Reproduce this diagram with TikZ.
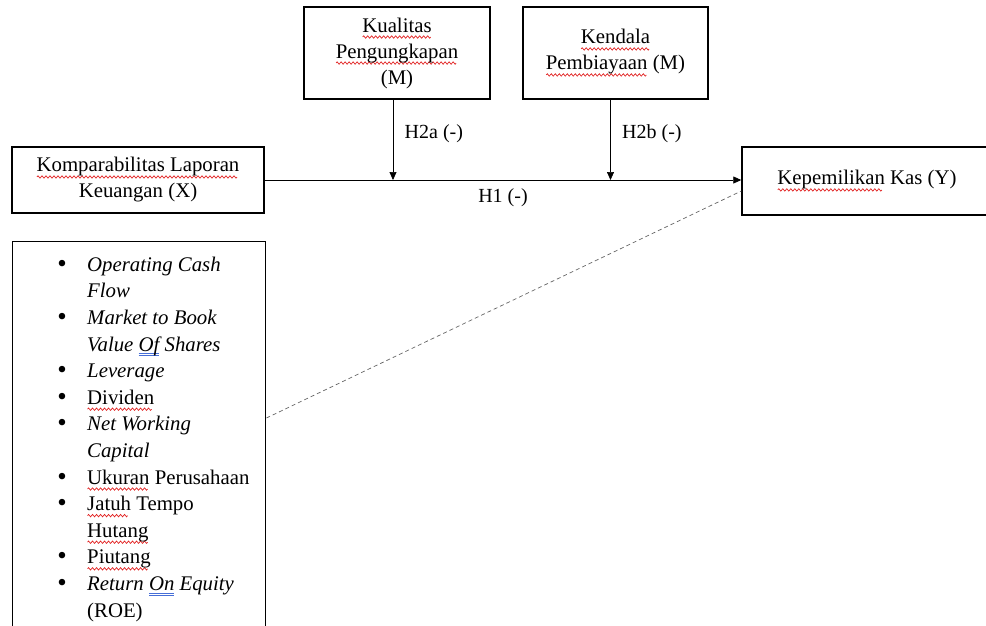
\documentclass[tikz,border=0pt]{standalone}
\usepackage{fontspec}
\setmainfont{Liberation Serif}
\usetikzlibrary{arrows.meta,calc,positioning}
\definecolor{spellred}{RGB}{225,35,35}
\definecolor{gramblue}{RGB}{70,110,215}
\newsavebox\markbox
\newlength\markwd
% gelombang merah di bawah kata
\newcommand\spell[1]{\sbox\markbox{#1}\setlength\markwd{\wd\markbox}%
	\pgfmathsetmacro\wavn{max(1,int(\markwd/4))}%
	\leavevmode\rlap{\raisebox{-5pt}{\tikz[x=1pt,y=1pt,baseline=0pt]\draw[spellred,line width=0.7pt] (0,0) \foreach \k in {1,...,\wavn}{sin ++(1,1.2) cos ++(1,-1.2) sin ++(1,-1.2) cos ++(1,1.2)};}}\usebox\markbox}
% garis ganda biru
\newcommand\gram[1]{\sbox\markbox{#1}\setlength\markwd{\wd\markbox}%
	\leavevmode\rlap{\color{gramblue}\rule[-3pt]{\markwd}{0.6pt}}\rlap{\color{gramblue}\rule[-5pt]{\markwd}{0.6pt}}\usebox\markbox}
\newcommand\bul{\makebox[8pt]{\raisebox{-1pt}{\fontsize{27}{27}\selectfont\textbullet}}}
\begin{document}
\begin{tikzpicture}[x=1pt, y=-1pt, font=\fontsize{20.8}{26}\selectfont, >={Triangle[length=8pt,width=7pt]},
	box/.style={draw, line width=1.4pt, align=center, inner sep=0pt},
	link/.style={->, line width=0.7pt},
	dashlink/.style={line width=0.7pt, gray!80!black, dash pattern=on 4pt off 3pt},
	hyp/.style={font=\fontsize{20}{22}\selectfont}]
	\clip (0,0) rectangle (986,625);
	% variabel
	\node[box, minimum width=252pt, minimum height=66pt] (komp) at (138,180) {\spell{Komparabilitas Laporan}\\Keuangan (X)};
	\node[box, minimum width=186pt, minimum height=92pt] (kual) at (397,53) {\spell{Kualitas}\\\spell{Pengungkapan}\\(M)};
	\node[box, minimum width=185pt, minimum height=92pt] (kend) at (615.5,53) {\spell{Kendala}\\\spell{Pembiayaan} (M)};
	\node[box, minimum width=250pt, minimum height=68pt] (kas) at (867,181) {\spell{Kepemilikan} Kas (Y)};
	% kontrol
	\node[box, minimum width=253pt, minimum height=420pt, anchor=north west] (ctrl) at (12,241) {};
	\node[anchor=north west, inner sep=0pt, font=\fontsize{20.8}{26.6}\selectfont] (items) at ([xshift=46pt,yshift=-11.4pt]ctrl.north west) {%
		\begin{tabular}{@{}l@{\hspace{21pt}}l@{}}
			\bul & \textit{Operating Cash}\\
			     & \textit{Flow}\\
			\bul & \textit{Market to Book}\\
			     & \textit{Value \gram{Of} Shares}\\
			\bul & \textit{Leverage}\\
			\bul & \spell{Dividen}\\
			\bul & \textit{Net Working}\\
			     & \textit{Capital}\\
			\bul & \spell{Ukuran} Perusahaan\\
			\bul & \spell{Jatuh} Tempo\\
			     & \spell{Hutang}\\
			\bul & \spell{Piutang}\\
			\bul & \textit{Return \gram{On} Equity}\\
			     & (ROE)
		\end{tabular}};
	% hipotesis
	\draw[link] (komp.east) -- (komp.east -| kas.west) node[midway, below=5pt, hyp] (h1) {H1 (-)};
	\draw[link] ([xshift=-4pt]kual.south) -- ([xshift=-4pt]kual.south |- komp.east) node[pos=0.42, right=8pt, hyp] (h2a) {H2a (-)};
	\draw[link] ([xshift=-5pt]kend.south) -- ([xshift=-5pt]kend.south |- komp.east) node[pos=0.42, right=8pt, hyp] (h2b) {H2b (-)};
	\coordinate (dashin) at ($(ctrl.north east)+(0,177)$);
	\draw[dashlink] (dashin) -- ([yshift=-10pt]kas.west);
\end{tikzpicture}
\end{document}
